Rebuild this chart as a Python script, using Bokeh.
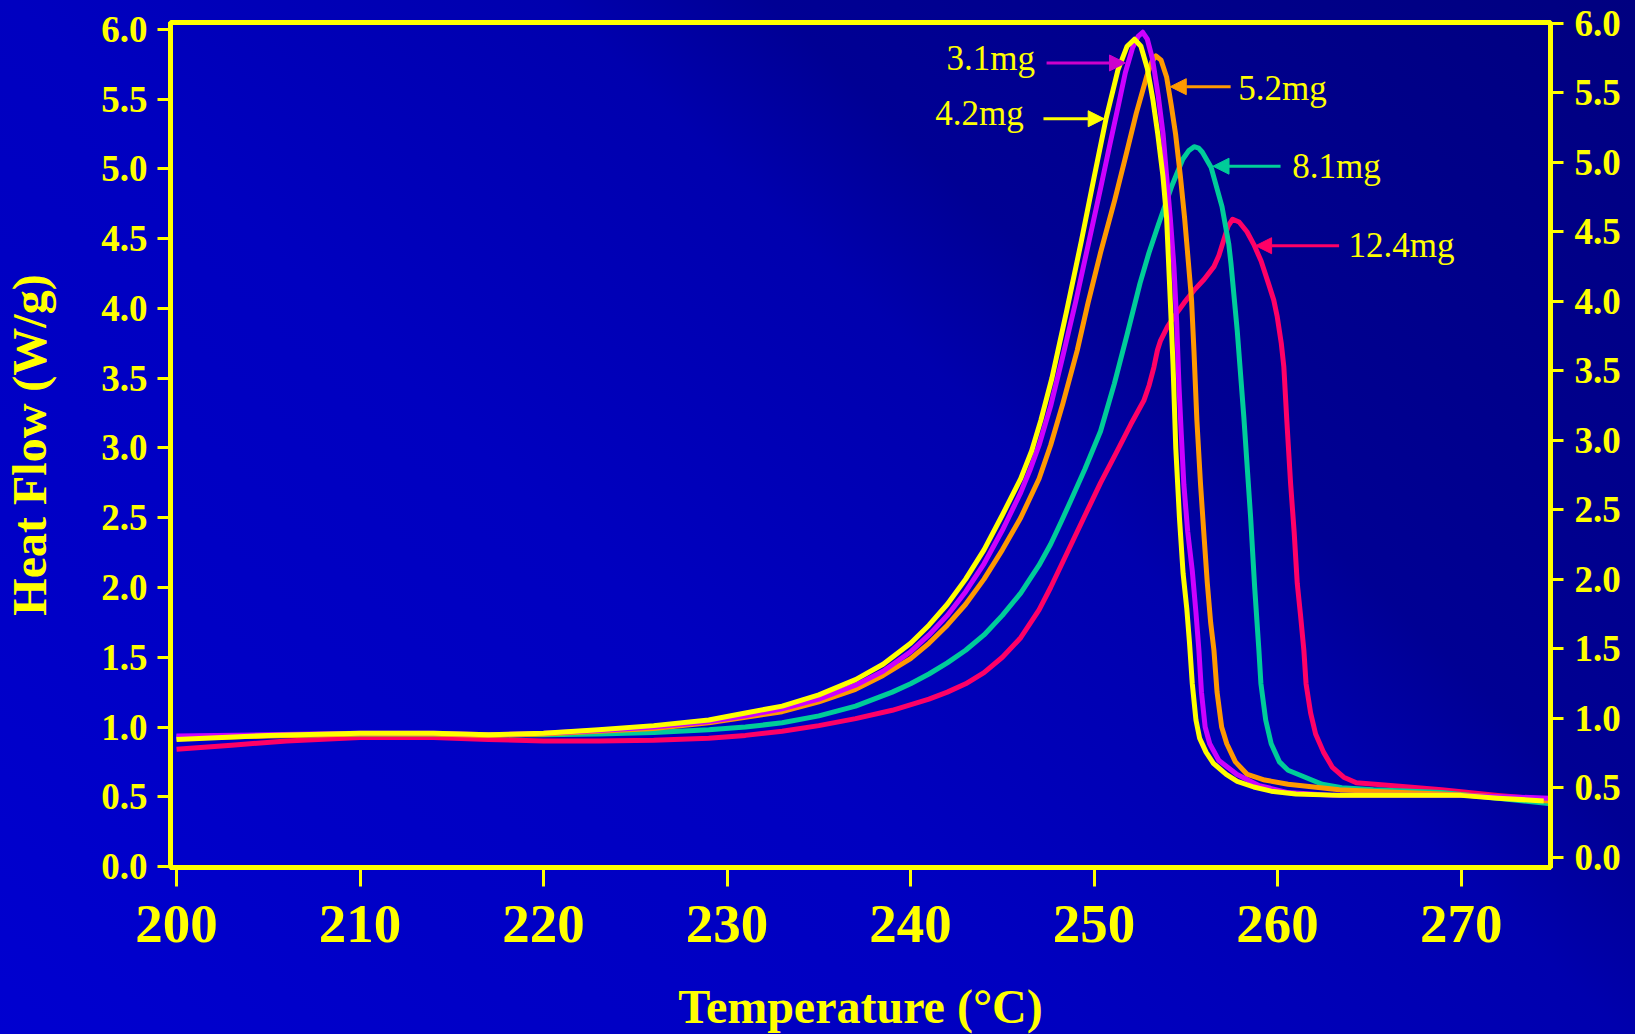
from bokeh.plotting import figure
from bokeh.models import (Range1d, LinearAxis, FixedTicker, NumeralTickFormatter,
                          Arrow, NormalHead, ColumnDataSource)
from bokeh.embed import file_html
from bokeh.resources import INLINE
from bokeh.core.properties import value

# ---------------- data ----------------
x_ticks = [200, 210, 220, 230, 240, 250, 260, 270]
y_ticks = [0.0, 0.5, 1.0, 1.5, 2.0, 2.5, 3.0, 3.5, 4.0, 4.5, 5.0, 5.5, 6.0]

# 3.1 mg (magenta)
t_31 = [200, 205, 210, 214, 217, 220, 223, 226, 229, 231, 233, 235, 237, 238.5, 240, 241, 242, 243, 244, 245, 246, 246.5, 247,
        247.63, 248.3, 249, 249.7, 250.35, 250.85, 251.33, 251.7, 252.1, 252.4, 252.65, 252.9, 253.18, 253.5, 253.76,
        253.95, 254.15, 254.35, 254.5, 254.62, 254.75, 254.89, 255.1, 255.35, 255.55, 255.71, 255.85, 256.05, 256.3,
        256.8, 257.79, 259.0, 260.57, 263.0, 267.0, 270.0, 274.8]
hf_31 = [0.935, 0.945, 0.955, 0.955, 0.945, 0.955, 0.975, 1.0, 1.04, 1.08, 1.13, 1.2, 1.3, 1.4, 1.54, 1.66, 1.8, 1.97, 2.17, 2.41, 2.68, 2.84, 3.02,
         3.3, 3.66, 4.05, 4.47, 4.86, 5.17, 5.46, 5.69, 5.87, 5.95, 5.98, 5.93, 5.79, 5.52, 5.25,
         4.95, 4.65, 4.3, 3.9, 3.46, 3.1, 2.74, 2.4, 2.12, 1.82, 1.55, 1.25, 1.0, 0.88,
         0.76, 0.66, 0.58, 0.53, 0.51, 0.51, 0.51, 0.49]

# 4.2 mg (yellow)
t_42 = [200, 205, 210, 214, 217, 220, 223, 226, 229, 231, 233, 235, 237, 238.5, 240, 241, 242, 243, 244, 245, 246, 246.6, 247.1,
        247.7, 248.5, 249.3, 250, 250.65, 251.3, 251.8, 252.2, 252.55, 252.9, 253.2, 253.47, 253.75, 253.95, 254.15,
        254.3, 254.45, 254.65, 254.85, 255.05, 255.2, 255.35, 255.55, 255.75, 256.1, 256.5, 257.2, 257.8, 258.7, 259.65,
        261.0, 263.4, 267.0, 270.0, 272.0, 274.5]
hf_42 = [0.91, 0.94, 0.955, 0.955, 0.945, 0.955, 0.98, 1.01, 1.05, 1.1, 1.15, 1.23, 1.34, 1.45, 1.6, 1.73, 1.88, 2.06, 2.27, 2.52, 2.78, 2.98, 3.2,
         3.5, 3.98, 4.48, 4.94, 5.36, 5.71, 5.88, 5.93, 5.88, 5.72, 5.5, 5.25, 4.95, 4.65, 4.06,
         3.6, 3.0, 2.5, 2.1, 1.85, 1.6, 1.31, 1.05, 0.92, 0.82, 0.74, 0.66, 0.61, 0.57, 0.54,
         0.52, 0.51, 0.51, 0.51, 0.49, 0.47]

# 5.2 mg (orange)
t_52 = [200, 205, 210, 214, 217, 220, 223, 226, 229, 231, 233, 235, 237, 238.5, 240, 241, 242, 243, 244, 245, 246, 247,
        247.63, 248.3, 249.08, 249.67, 250.35, 251.13, 251.7, 252.3, 252.88, 253.15, 253.37, 253.65, 253.95, 254.2, 254.44,
        254.7, 254.93, 255.08, 255.31, 255.44, 255.6, 255.8, 256.0, 256.17, 256.35, 256.53, 256.7, 256.95, 257.23, 257.7,
        258.35, 259.3, 260.57, 263.36, 266.0, 268.94, 272.0, 274.8]
hf_52 = [0.92, 0.935, 0.95, 0.95, 0.94, 0.95, 0.97, 0.99, 1.03, 1.07, 1.11, 1.18, 1.27, 1.37, 1.49, 1.6, 1.73, 1.88, 2.06, 2.27, 2.5, 2.78,
         3.02, 3.32, 3.7, 4.04, 4.4, 4.78, 5.08, 5.4, 5.67, 5.77, 5.81, 5.78, 5.66, 5.46, 5.25,
         4.95, 4.65, 4.42, 4.06, 3.7, 3.2, 2.74, 2.35, 2.03, 1.75, 1.55, 1.25, 1.0, 0.88, 0.75,
         0.66, 0.62, 0.59, 0.55, 0.535, 0.52, 0.5, 0.47]

# 8.1 mg (teal)
t_81 = [200, 205, 210, 214, 217, 220, 223, 226, 229, 231, 233, 235, 237, 239, 240, 241, 242, 243, 244, 245, 246, 247,
        247.63, 248.2, 248.72, 249.5, 250.35, 251.1, 251.81, 252.5, 252.99, 253.5, 254.24, 254.83, 255.15, 255.45, 255.7,
        255.9, 256.38, 256.97, 257.34, 257.46, 257.8, 258.16, 258.53, 258.75, 258.98, 259.09, 259.35, 259.65, 260.1,
        260.57, 261.5, 262.43, 263.5, 265.22, 268.94, 272.0, 274.9]
hf_81 = [0.93, 0.94, 0.95, 0.95, 0.945, 0.945, 0.95, 0.96, 0.98, 1.0, 1.03, 1.08, 1.15, 1.25, 1.31, 1.38, 1.46, 1.55, 1.66, 1.8, 1.96, 2.16,
         2.31, 2.47, 2.62, 2.85, 3.12, 3.46, 3.82, 4.18, 4.4, 4.6, 4.88, 5.07, 5.13, 5.16, 5.15,
         5.12, 5.01, 4.73, 4.46, 4.32, 3.84, 3.22, 2.5, 2.0, 1.55, 1.31, 1.05, 0.88, 0.75,
         0.69, 0.64, 0.59, 0.565, 0.55, 0.53, 0.49, 0.45]

# 12.4 mg (red)
t_124 = [200, 203, 206, 210, 214, 217, 220, 223, 226, 229, 231, 233, 235, 237, 239, 241, 242, 243, 244, 245, 246, 247,
         247.63, 248.5, 249.44, 250.35, 251.26, 252.0, 252.71, 253.0, 253.26, 253.45, 253.62, 254.0, 254.35, 254.9, 255.44,
         256.0, 256.53, 256.8, 257.06, 257.3, 257.55, 257.9, 258.33, 258.7, 259.1, 259.5, 259.79, 259.98, 260.2, 260.34,
         260.5, 260.71, 260.9, 261.07, 261.25, 261.43, 261.55, 261.8, 262.07, 262.5, 262.99, 263.6, 264.29, 266.15,
         268.94, 272.0, 274.7]
hf_124 = [0.84, 0.87, 0.9, 0.925, 0.925, 0.91, 0.9, 0.9, 0.905, 0.92, 0.94, 0.97, 1.01, 1.06, 1.12, 1.2, 1.25, 1.31, 1.39, 1.5, 1.64, 1.84,
          2.0, 2.24, 2.5, 2.75, 2.98, 3.17, 3.34, 3.45, 3.58, 3.7, 3.77, 3.87, 3.94, 4.04, 4.13,
          4.21, 4.3, 4.38, 4.49, 4.59, 4.64, 4.62, 4.55, 4.46, 4.34, 4.18, 4.06, 3.94, 3.75, 3.58,
          3.2, 2.74, 2.4, 2.03, 1.8, 1.55, 1.31, 1.1, 0.95, 0.82, 0.71, 0.64, 0.6, 0.58,
          0.55, 0.51, 0.48]

series_names = ["3.1mg", "4.2mg", "5.2mg", "8.1mg", "12.4mg"]
series_colors = ["#CC00FF", "#FFFF00", "#FF9900", "#00CC99", "#FF0066"]
arrow_colors = ["#CC00CC", "#FFFF00", "#FF9900", "#00CC99", "#FF0066"]

# annotation labels: text start (x, y) and arrow start/tip (data units)
label_x = [241.96, 241.34, 257.85, 260.8, 263.86]
label_y = [5.79, 5.40, 5.58, 5.02, 4.45]
arrow_x0 = [247.41, 247.24, 257.44, 260.16, 263.35]
arrow_x1 = [251.71, 250.55, 254.15, 256.48, 258.80]
arrow_y = [5.76, 5.36, 5.59, 5.02, 4.45]

# ---------------- figure ----------------
YEL = "#FFFF00"
SERIF = "Liberation Serif"

p = figure(width=1635, height=1034, output_backend="svg", toolbar_location=None,
           x_range=Range1d(199.67, 274.87), y_range=Range1d(-0.007, 6.05),
           min_border_left=170, min_border_right=85, min_border_top=22, min_border_bottom=167,
           frame_width=1380, frame_height=845,
           background_fill_color=None, border_fill_color=None,
           outline_line_color=YEL, outline_line_width=5)
p.styles = {"background": "linear-gradient(44deg, #0000D0 0%, #0000C6 20%, #0000C0 40%, "
                          "#0000AE 60%, #000094 68%, #00008C 80%, #000080 100%)"}
p.xgrid.visible = False
p.ygrid.visible = False

curves = [(t_31, hf_31), (t_42, hf_42), (t_52, hf_52), (t_81, hf_81), (t_124, hf_124)]
# draw order: red, teal, orange, magenta, yellow on top
for idx in [4, 3, 2, 0, 1]:
    t, h = curves[idx]
    p.line(t, h, line_color=series_colors[idx], line_width=5, line_join="round")

for i in range(len(series_names)):
    c = arrow_colors[i]
    p.add_layout(Arrow(end=NormalHead(size=16, fill_color=c, line_color=c, line_width=1),
                       x_start=arrow_x0[i], y_start=arrow_y[i], x_end=arrow_x1[i], y_end=arrow_y[i],
                       line_color=c, line_width=3))

lab_src = ColumnDataSource(dict(x=label_x, y=label_y, text=series_names))
p.text(x="x", y="y", text="text", source=lab_src, text_color=YEL,
       text_font=value(SERIF), text_font_size="35px", text_baseline="middle", text_align="left")

# axes
def style_axis(ax, tick_out, size):
    ax.axis_line_color = YEL
    ax.axis_line_width = 5
    ax.major_tick_line_color = YEL
    ax.major_tick_line_width = 3
    ax.major_tick_out = tick_out
    ax.major_tick_in = 0
    ax.minor_tick_line_color = None
    ax.major_label_text_color = YEL
    ax.major_label_text_font = SERIF
    ax.major_label_text_font_style = "bold"
    ax.major_label_text_font_size = size
    ax.axis_label_text_color = YEL
    ax.axis_label_text_font = SERIF
    ax.axis_label_text_font_style = "bold"
    ax.axis_label_text_font_size = "48px"

xa = p.xaxis[0]
style_axis(xa, 19, "55px")
xa.ticker = FixedTicker(ticks=x_ticks)
xa.major_label_standoff = 19
xa.axis_label = "Temperature (°C)"
xa.axis_label_standoff = 35

ya = p.yaxis[0]
style_axis(ya, 13, "37px")
ya.ticker = FixedTicker(ticks=y_ticks)
ya.formatter = NumeralTickFormatter(format="0.0")
ya.major_label_standoff = 10
ya.axis_label = "Heat Flow (W/g)"
ya.axis_label_standoff = 42

p.extra_y_ranges = {"r": Range1d(-0.072, 6.005)}
ra = LinearAxis(y_range_name="r")
style_axis(ra, 13, "37px")
ra.ticker = FixedTicker(ticks=y_ticks)
ra.formatter = NumeralTickFormatter(format="0.0")
ra.major_label_standoff = 11
p.add_layout(ra, "right")

open("out.html", "w").write(file_html(p, INLINE))
